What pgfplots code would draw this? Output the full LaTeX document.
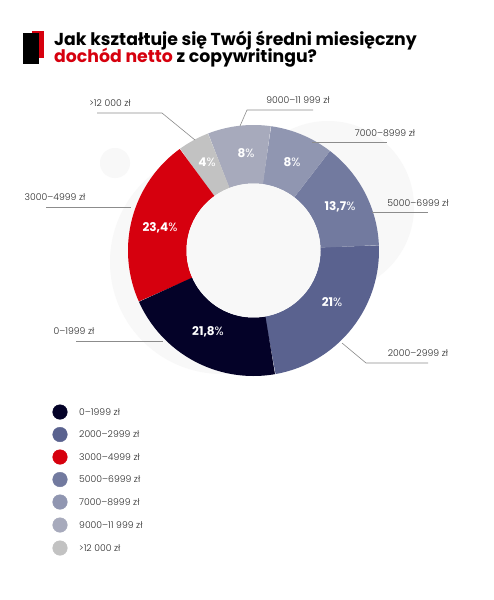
\documentclass[border=0pt]{standalone}
\usepackage{pgfplots}
\usepackage{pgfplotstable}
\usepackage{fontspec}
\setmainfont{Poppins}
\newfontfamily\plight{Poppins Light}
\pgfplotsset{compat=1.18}

\definecolor{cA}{RGB}{4,2,40}      % 0-1999
\definecolor{cB}{RGB}{90,98,143}   % 2000-2999
\definecolor{cC}{RGB}{214,0,14}    % 3000-4999
\definecolor{cD}{RGB}{114,122,159} % 5000-6999
\definecolor{cE}{RGB}{144,150,177} % 7000-8999
\definecolor{cF}{RGB}{167,170,188} % 9000-11999
\definecolor{cG}{RGB}{194,194,194} % >12000
\definecolor{lbl}{RGB}{45,45,45}
\definecolor{lead}{RGB}{140,140,140}
\definecolor{bgblob}{RGB}{248,248,248}

% slice shares (percent of the circle), counter-clockwise from 280 deg
% order: 2000-2999, 5000-6999, 7000-8999, 9000-11999, >12000, 3000-4999, 0-1999
\pgfplotstableread{
id share
0 22.9
1 13.9
2 8.2
3 8.1
4 4.1
5 21.7
6 21.1
}\slices

\xdef\cum{280}
\foreach \i in {0,...,6}{%
  \pgfplotstablegetelem{\i}{share}\of\slices
  \pgfmathsetmacro\b{\cum+3.6*\pgfplotsretval}%
  \expandafter\xdef\csname sA\i\endcsname{\cum}%
  \expandafter\xdef\csname sB\i\endcsname{\b}%
  \xdef\cum{\b}%
}

\newcommand\slice[2]{%
  \addplot[draw=#2, line width=58.5pt, line join=round, no markers,
    domain=\csname sA#1\endcsname:\csname sB#1\endcsname, samples=90]
    ({253.5+96.25*cos(x)},{250.5-96.25*sin(x)});
}
\newcommand\disc[4]{% fill, cx, cy, r
  \addplot[fill=#1, draw=none, no markers, domain=0:360, samples=180]
    ({#2+#4*cos(x)},{#3-#4*sin(x)});
}
\newcommand\legdot[2]{%
  \addplot[only marks, mark=*, mark size=7.3pt, mark options={draw=#1, fill=#1}] coordinates {(60,#2)};
}

\begin{document}
\begin{tikzpicture}
\begin{axis}[
  width=493pt, height=600pt, scale only axis,
  xmin=0, xmax=493, ymin=0, ymax=600, y dir=reverse,
  hide axis, clip=false,
]
% white page
\addplot[fill=white, draw=none] coordinates {(0,0) (493,0) (493,600) (0,600)};
% faint background shapes
\disc{bgblob}{328}{207}{86}
\disc{bgblob}{222}{262}{112}
\disc{bgblob}{115}{163}{15}

% title icon
\addplot[fill=cC, draw=none] coordinates {(32,31) (44,31) (44,58) (32,58)};
\addplot[fill=black, draw=none] coordinates {(23,33) (39,33) (39,64) (23,64)};

% donut
\slice{0}{cB}
\slice{1}{cD}
\slice{2}{cE}
\slice{3}{cF}
\slice{4}{cG}
\slice{5}{cC}
\slice{6}{cA}
\disc{bgblob}{253.5}{250.5}{67}

% leader lines
\addplot[lead, line width=0.6pt, no markers] coordinates {(97,113) (162,113) (195,140)};
\addplot[lead, line width=0.6pt, no markers] coordinates {(313,110) (247,110) (240,126)};
\addplot[lead, line width=0.6pt, no markers] coordinates {(312,142) (387,142)};
\addplot[lead, line width=0.6pt, no markers] coordinates {(372,212) (428,212)};
\addplot[lead, line width=0.6pt, no markers] coordinates {(342,343) (366,363) (428,363)};
\addplot[lead, line width=0.6pt, no markers] coordinates {(46,207) (131,207)};
\addplot[lead, line width=0.6pt, no markers] coordinates {(76,341) (163,341)};

% legend markers
\legdot{cA}{412}
\legdot{cB}{434.5}
\legdot{cC}{457}
\legdot{cD}{479.5}
\legdot{cE}{502}
\legdot{cF}{525}
\legdot{cG}{548}

% title
\node[anchor=base west, inner sep=0pt, font=\bfseries\fontsize{17.3}{18}\selectfont] at (axis cs:54,45) {Jak kształtuje się Twój średni miesięczny};
\node[anchor=base west, inner sep=0pt, font=\bfseries\fontsize{17.3}{18}\selectfont] at (axis cs:54,62.5) {\textcolor{cC}{dochód netto} z copywritingu?};

% percentages
\tikzset{pct/.style={white, font=\bfseries\fontsize{12}{14}\selectfont, inner sep=0pt}}
\node[pct] at (axis cs:207,162) {4{\mdseries\%}};
\node[pct] at (axis cs:246,153) {8{\mdseries\%}};
\node[pct] at (axis cs:292,162) {8{\mdseries\%}};
\node[pct] at (axis cs:340,207) {13,7{\mdseries\%}};
\node[pct] at (axis cs:160,228) {23,4{\mdseries\%}};
\node[pct] at (axis cs:332,302) {21{\mdseries\%}};
\node[pct] at (axis cs:208,332) {21,8{\mdseries\%}};

% outside labels
\tikzset{olab/.style={lbl, font=\plight\fontsize{9.3}{11}\selectfont, inner sep=0pt}}
\node[olab] at (axis cs:110,103) {>12 000 zł};
\node[olab] at (axis cs:298,100) {9000–11 999 zł};
\node[olab] at (axis cs:385,133) {7000–8999 zł};
\node[olab] at (axis cs:418,203) {5000–6999 zł};
\node[olab] at (axis cs:418,353) {2000–2999 zł};
\node[olab] at (axis cs:55,197) {3000–4999 zł};
\node[olab] at (axis cs:74,331) {0–1999 zł};

% legend labels
\tikzset{llab/.style={lbl, font=\plight\fontsize{9.3}{11}\selectfont, inner sep=0pt, anchor=west}}
\node[llab] at (axis cs:79,412) {0–1999 zł};
\node[llab] at (axis cs:79,434.5) {2000–2999 zł};
\node[llab] at (axis cs:79,457) {3000–4999 zł};
\node[llab] at (axis cs:79,479.5) {5000–6999 zł};
\node[llab] at (axis cs:79,502) {7000–8999 zł};
\node[llab] at (axis cs:79,525) {9000–11 999 zł};
\node[llab] at (axis cs:79,548) {>12 000 zł};
\end{axis}
\end{tikzpicture}
\end{document}
